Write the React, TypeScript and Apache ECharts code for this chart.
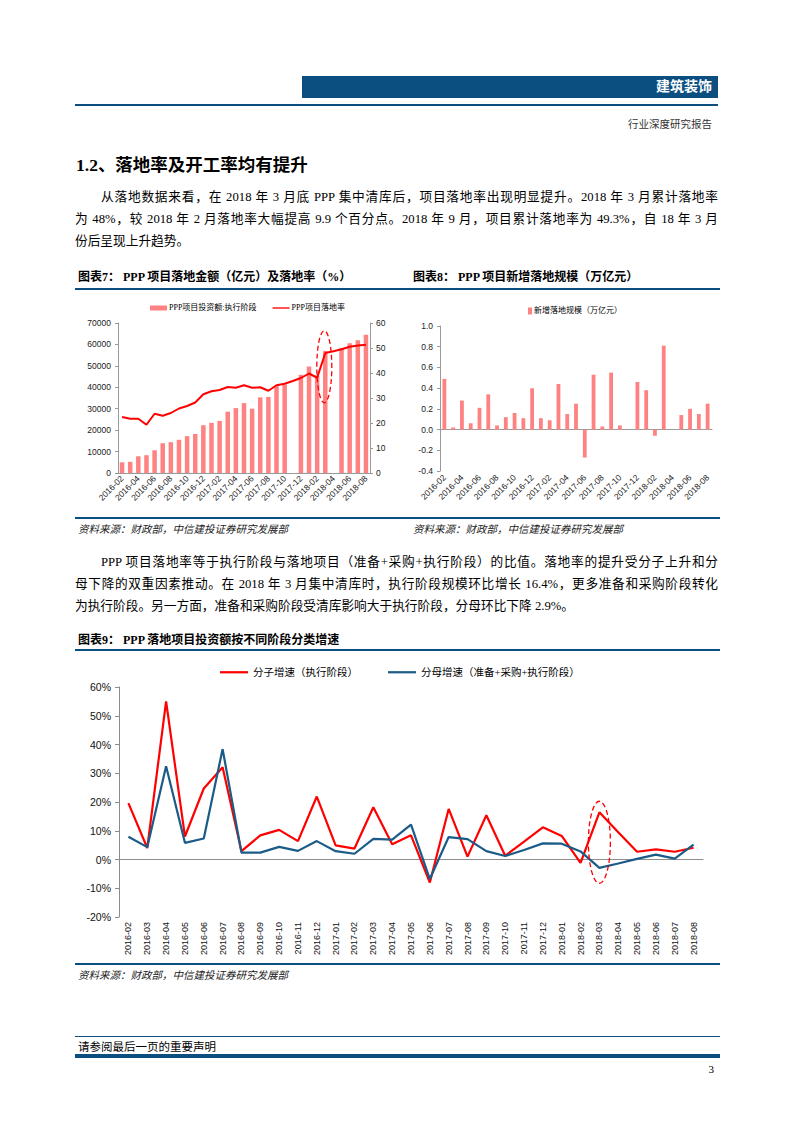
import React, { useEffect, useRef } from 'react';
import * as echarts from 'echarts';

const months = [
  '2016-02', '2016-03', '2016-04', '2016-05', '2016-06', '2016-07', '2016-08', '2016-09', '2016-10', '2016-11', '2016-12',
  '2017-01', '2017-02', '2017-03', '2017-04', '2017-05', '2017-06', '2017-07', '2017-08', '2017-09', '2017-10', '2017-11', '2017-12',
  '2018-01', '2018-02', '2018-03', '2018-04', '2018-05', '2018-06', '2018-07', '2018-08',
];

// 图表7
const execInvest = [
  5000, 5200, 7800, 8300, 10600, 13900, 14400, 15500, 17200, 18200, 22300,
  23400, 24300, 28600, 30300, 32600, 30000, 35300, 35500, 40500, 41300, null, 45800,
  49700, 45500, 57000, null, 58300, 60500, 62000, 64500,
];
const landingRate = [
  22.4, 21.7, 21.7, 19.3, 23.7, 22.9, 24.0, 25.8, 26.8, 28.2, 31.5,
  32.7, 33.2, 34.4, 34.1, 35.1, 34.1, 34.3, 32.9, 35.1, 35.7, 36.8, 38.0,
  39.8, 38.1, 48.0, 48.7, 49.5, 50.5, 51.0, 51.3,
];

// 图表8
const newLanding = [
  0.49, 0.02, 0.28, 0.06, 0.21, 0.34, 0.04, 0.12, 0.16, 0.11, 0.40,
  0.11, 0.09, 0.44, 0.15, 0.25, -0.27, 0.53, 0.03, 0.55, 0.04, null, 0.46,
  0.38, -0.06, 0.81, null, 0.14, 0.20, 0.15, 0.25,
];

// 图表9
const numeratorGrowth = [
  19.6, 4.0, 55.0, 8.0, 24.7, 32.1, 2.9, 8.4, 10.3, 6.4, 21.9,
  4.9, 3.8, 18.2, 5.3, 8.4, -8.0, 17.6, 1.0, 15.4, 1.3, 6.2, 11.2,
  8.2, -1.2, 16.4, 9.5, 2.7, 3.5, 2.7, 4.1,
];
const denominatorGrowth = [
  7.9, 4.3, 32.4, 5.8, 7.3, 38.4, 2.4, 2.4, 4.4, 3.0, 6.4,
  2.9, 2.0, 7.2, 6.9, 12.1, -6.8, 7.8, 7.1, 2.9, 1.2, 3.3, 5.6,
  5.5, 2.8, -2.9, -1.4, 0.2, 1.7, 0.3, 5.2,
];

const NUM_FONT = '"Liberation Sans", Arial, sans-serif';
const CJK_FONT = '"Liberation Serif", "Times New Roman", "Noto Sans CJK SC", serif';
const BLUE = '#0b4e80';
const AXIS = '#9a9a9a';
const PINK = '#ff8282';
const LINE_ICON = 'path://M0,0H30V2.4H0Z';

function EChart({ style, option, after }: { style: any; option: any; after?: (c: any) => void }) {
  const ref = useRef<HTMLDivElement>(null);
  useEffect(() => {
    const chart = echarts.init(ref.current!, undefined, { renderer: 'svg' });
    chart.setOption(option);
    if (after) after(chart);
    return () => chart.dispose();
  }, []);
  return <div ref={ref} style={{ position: 'absolute', ...style }} />;
}

const T = ({ x, y, size, children, style }: any) => (
  <div
    style={{
      position: 'absolute', left: x, top: y - size / 2 - 1, fontSize: size, lineHeight: `${size + 2}px`,
      whiteSpace: 'nowrap', fontFamily: CJK_FONT, color: '#000', ...style,
    }}
  >
    {children}
  </div>
);

const RT = ({ right, y, size, children, style }: any) => (
  <div
    style={{
      position: 'absolute', right: 793 - right, top: y - size / 2 - 1, fontSize: size, lineHeight: `${size + 2}px`,
      whiteSpace: 'nowrap', fontFamily: CJK_FONT, color: '#000', textAlign: 'right', ...style,
    }}
  >
    {children}
  </div>
);

const PLine = ({ x, y, w, children, last }: any) => (
  <div
    style={{
      position: 'absolute', left: x, top: y - 9, width: w, height: 18, fontSize: 12.7, lineHeight: '18px',
      fontFamily: CJK_FONT, color: '#000', textAlign: last ? 'left' : 'justify',
      textAlignLast: last ? 'left' : 'justify', overflow: 'visible',
    } as any}
  >
    {children}
  </div>
);

const Bar = ({ x, y, w, h, c }: any) => (
  <div style={{ position: 'absolute', left: x, top: y, width: w, height: h, background: c || BLUE }} />
);

const option7 = {
  animation: false,
  legend: {
    top: 9, left: 70, itemGap: 16, itemWidth: 17, itemHeight: 5,
    textStyle: { fontSize: 8, fontFamily: CJK_FONT, color: '#000', padding: [0, 0, 0, -3] },
    data: [
      { name: 'PPP项目投资额:执行阶段', icon: 'rect' },
      { name: 'PPP项目落地率', icon: LINE_ICON },
    ],
  },
  grid: { left: 43, right: 30, top: 33, bottom: 45 },
  xAxis: {
    type: 'category', data: months, boundaryGap: true,
    axisLine: { lineStyle: { color: AXIS } },
    axisTick: { interval: 1, length: 3, lineStyle: { color: AXIS } },
    axisLabel: { interval: 1, rotate: 45, fontSize: 8.5, color: '#222', fontFamily: NUM_FONT, margin: 4 },
  },
  yAxis: [
    {
      type: 'value', min: 0, max: 70000, interval: 10000,
      axisLine: { show: true, lineStyle: { color: AXIS } },
      axisTick: { show: true, length: 3, lineStyle: { color: AXIS } },
      splitLine: { show: false },
      axisLabel: { fontSize: 8.5, color: '#222', fontFamily: NUM_FONT, margin: 7, formatter: (v: number) => String(v) },
    },
    {
      type: 'value', min: 0, max: 60, interval: 10, position: 'right',
      axisLine: { show: true, lineStyle: { color: AXIS } },
      axisTick: { show: true, length: 3, lineStyle: { color: AXIS } },
      splitLine: { show: false },
      axisLabel: { fontSize: 8.5, color: '#222', fontFamily: NUM_FONT, margin: 6 },
    },
  ],
  series: [
    {
      name: 'PPP项目投资额:执行阶段', type: 'bar', data: execInvest, yAxisIndex: 0, barWidth: 4.5,
      itemStyle: { color: PINK },
    },
    {
      name: 'PPP项目落地率', type: 'line', data: landingRate, yAxisIndex: 1, symbol: 'none',
      lineStyle: { color: '#ff0000', width: 2 }, itemStyle: { color: '#ff0000' }, connectNulls: true,
    },
  ],
};

const option8 = {
  animation: false,
  legend: {
    top: 12, left: 118, itemWidth: 4, itemHeight: 7,
    textStyle: { fontSize: 8, fontFamily: CJK_FONT, color: '#000', padding: [0, 0, 0, -3] },
    data: [{ name: '新增落地规模（万亿元）', icon: 'rect' }],
  },
  grid: { left: 35, right: 13, top: 36, bottom: 47 },
  xAxis: [
    {
      type: 'category', data: months, boundaryGap: true,
      axisLine: { onZero: true, lineStyle: { color: AXIS } },
      axisTick: { interval: 1, length: 3, lineStyle: { color: AXIS } },
      axisLabel: { show: false },
    },
    {
      type: 'category', data: months, boundaryGap: true, position: 'bottom',
      axisLine: { show: false, onZero: false }, axisTick: { show: false },
      axisLabel: { interval: 1, rotate: 45, fontSize: 8.5, color: '#222', fontFamily: NUM_FONT, margin: 5 },
    },
  ],
  yAxis: {
    type: 'value', min: -0.4, max: 1.0, interval: 0.2,
    axisLine: { show: true, lineStyle: { color: AXIS } },
    axisTick: { show: true, length: 3, lineStyle: { color: AXIS } },
    splitLine: { show: false },
    axisLabel: { fontSize: 8.5, color: '#222', fontFamily: NUM_FONT, margin: 7, formatter: (v: number) => v.toFixed(1) },
  },
  series: [
    {
      name: '新增落地规模（万亿元）', type: 'bar', data: newLanding, xAxisIndex: 0, barWidth: 3.8,
      itemStyle: { color: PINK },
    },
  ],
};

const option9 = {
  animation: false,
  legend: {
    top: 10, left: 140, itemGap: 30, itemWidth: 28, itemHeight: 8,
    textStyle: { fontSize: 10.5, fontFamily: CJK_FONT, color: '#000' },
    data: [
      { name: '分子增速（执行阶段）', icon: LINE_ICON },
      { name: '分母增速（准备+采购+执行阶段）', icon: LINE_ICON },
    ],
  },
  grid: { left: 44, right: 17, top: 35, bottom: 45 },
  xAxis: [
    {
      type: 'category', data: months, boundaryGap: true,
      axisLine: { onZero: true, lineStyle: { color: '#8c8c8c' } },
      axisTick: { interval: 0, length: 4, lineStyle: { color: '#8c8c8c' } },
      axisLabel: { show: false },
    },
    {
      type: 'category', data: months, boundaryGap: true, position: 'bottom',
      axisLine: { show: false, onZero: false }, axisTick: { show: false },
      axisLabel: { interval: 0, rotate: 90, fontSize: 9, color: '#111', fontFamily: NUM_FONT, margin: 5 },
    },
  ],
  yAxis: {
    type: 'value', min: -20, max: 60, interval: 10,
    axisLine: { show: true, lineStyle: { color: '#8c8c8c' } },
    axisTick: { show: true, length: 4, lineStyle: { color: '#8c8c8c' } },
    splitLine: { show: false },
    axisLabel: { fontSize: 10.5, color: '#111', fontFamily: NUM_FONT, margin: 8, formatter: '{value}%' },
  },
  series: [
    {
      name: '分子增速（执行阶段）', type: 'line', data: numeratorGrowth, symbol: 'none',
      lineStyle: { color: '#ff0000', width: 2.2 }, itemStyle: { color: '#ff0000' },
    },
    {
      name: '分母增速（准备+采购+执行阶段）', type: 'line', data: denominatorGrowth, symbol: 'none',
      lineStyle: { color: '#1b5b88', width: 2.2 }, itemStyle: { color: '#1b5b88' },
    },
  ],
};

const dashedEllipse = (cx: number, cy: number, rx: number, ry: number) => ({
  type: 'ellipse', z: 100, silent: true,
  shape: { cx, cy, rx, ry },
  style: { fill: 'none', stroke: '#ff0000', lineWidth: 1.3, lineDash: [5, 3] },
});

const after7 = (chart: any) => {
  const p = chart.convertToPixel({ xAxisIndex: 0, yAxisIndex: 1 }, ['2018-03', 42.5]);
  chart.setOption({ graphic: [dashedEllipse(p[0] - 1, p[1], 7.5, 36)] });
};

const after9 = (chart: any) => {
  const p = chart.convertToPixel({ xAxisIndex: 0, yAxisIndex: 0 }, ['2018-03', 6]);
  chart.setOption({ graphic: [dashedEllipse(p[0], p[1], 11, 41)] });
};

const SRC = '资料来源：财政部，中信建投证券研究发展部';

export default function App() {
  return (
    <div style={{ position: 'absolute', left: 0, top: 0, width: 793, height: 1122, background: '#fff', overflow: 'hidden' }}>
      {/* Header */}
      <Bar x={302} y={76} w={416} h={22} />
      <RT right={712} y={87} size={14} style={{ color: '#fff', fontWeight: 'bold' }}>建筑装饰</RT>
      <Bar x={75} y={104} w={643} h={1.5} />
      <RT right={712} y={125} size={10.5} style={{ color: '#333' }}>行业深度研究报告</RT>

      <T x={76} y={166} size={17.5} style={{ fontWeight: 'bold' }}>1.2、落地率及开工率均有提升</T>

      <PLine x={101} y={197} w={617}>从落地数据来看，在 2018 年 3 月底 PPP 集中清库后，项目落地率出现明显提升。2018 年 3 月累计落地率</PLine>
      <PLine x={75} y={219} w={643}>为 48%，较 2018 年 2 月落地率大幅提高 9.9 个百分点。2018 年 9 月，项目累计落地率为 49.3%，自 18 年 3 月</PLine>
      <PLine x={75} y={241} w={643} last>份后呈现上升趋势。</PLine>

      <T x={78} y={277} size={12} style={{ fontWeight: 'bold' }}>图表7：  PPP 项目落地金额（亿元）及落地率（%）</T>
      <T x={413} y={277} size={12} style={{ fontWeight: 'bold' }}>图表8：  PPP 项目新增落地规模（万亿元）</T>
      <Bar x={75} y={288} w={645} h={2} />

      <EChart style={{ left: 75, top: 290, width: 325, height: 228 }} option={option7} after={after7} />
      <EChart style={{ left: 405, top: 290, width: 320, height: 228 }} option={option8} />

      <Bar x={75} y={517} w={645} h={2} />
      <T x={78} y={530} size={10.5} style={{ fontStyle: 'italic', color: '#222' }}>{SRC}</T>
      <T x={413} y={530} size={10.5} style={{ fontStyle: 'italic', color: '#222' }}>{SRC}</T>

      <PLine x={101} y={562} w={617}>PPP 项目落地率等于执行阶段与落地项目（准备+采购+执行阶段）的比值。落地率的提升受分子上升和分</PLine>
      <PLine x={75} y={584} w={643}>母下降的双重因素推动。在 2018 年 3 月集中清库时，执行阶段规模环比增长 16.4%，更多准备和采购阶段转化</PLine>
      <PLine x={75} y={606} w={643} last>为执行阶段。另一方面，准备和采购阶段受清库影响大于执行阶段，分母环比下降 2.9%。</PLine>

      <T x={78} y={640} size={12} style={{ fontWeight: 'bold' }}>图表9：  PPP 落地项目投资额按不同阶段分类增速</T>
      <Bar x={75} y={649} w={645} h={2} />

      <EChart style={{ left: 75, top: 652, width: 645, height: 310 }} option={option9} after={after9} />

      <Bar x={75} y={963} w={645} h={2} />
      <T x={78} y={976} size={10.5} style={{ fontStyle: 'italic', color: '#222' }}>{SRC}</T>

      {/* Footer */}
      <Bar x={75} y={1036} w={645} h={1.2} />
      <T x={78} y={1048} size={11.5}>请参阅最后一页的重要声明</T>
      <Bar x={75} y={1054} w={645} h={3.5} />
      <RT right={714} y={1069} size={11}>3</RT>
    </div>
  );
}
